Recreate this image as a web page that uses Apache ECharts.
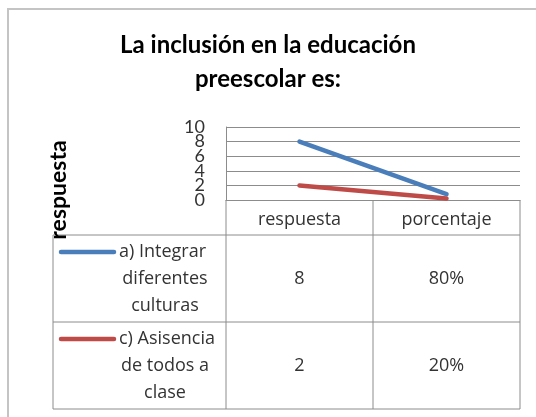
<!DOCTYPE html>
<html><head><meta charset="utf-8">
<script src="https://cdn.jsdelivr.net/npm/echarts@6/dist/echarts.min.js"></script>
<style>html,body{margin:0;padding:0;background:#fff}#c{width:536px;height:417px}</style>
</head><body><div id="c"></div>
<script>
// ---- data ----
const categories = ['respuesta', 'porcentaje'];
const seriesNames = ['a) Integrar diferentes culturas', 'c) Asisencia de todos a clase'];
const seriesLabelLines = [['a) Integrar', 'diferentes', 'culturas'], ['c) Asisencia', 'de todos a', 'clase']];
const valuesA = [8, 0.8];
const valuesC = [2, 0.2];
const yTicks = [0, 2, 4, 6, 8, 10];
const titleText = 'La inclusión en la educación\npreescolar es:';
const yAxisTitle = 'respuesta';
const colors = ['#4a7ebb', '#be4b48'];

const allValues = [valuesA, valuesC];
function fmt(catIdx, v) { return catIdx === 1 ? Math.round(v * 100) + '%' : String(v); }

const chart = echarts.init(document.getElementById('c'), null, { renderer: 'canvas' });
const gridLine = '#8c8c8c';
const txt = '#333';
const yMin = yTicks[0], yMax = yTicks[yTicks.length - 1], yStep = yTicks[1] - yTicks[0];
// labels overlap in the original; split them over two stacked axes so none is hidden
function yAxisDef(parity, main) {
  return {
    type: 'value', min: yMin, max: yMax, interval: yStep, position: 'left',
    axisLine: { show: main, lineStyle: { color: gridLine, width: 1 } },
    axisTick: { show: false },
    axisLabel: { margin: 21, fontFamily: 'Lato', fontSize: 18, color: txt,
      showMinLabel: true, showMaxLabel: true,
      formatter: v => (Math.round((v - yMin) / yStep) % 2 === parity ? String(v) : '') },
    splitLine: { show: main, lineStyle: { color: gridLine, width: 1 } }
  };
}
chart.setOption({
  animation: false,
  backgroundColor: '#fff',
  title: {
    text: titleText, left: 'center', top: 23,
    textStyle: { fontFamily: 'Lato', fontWeight: 'bold', fontSize: 24, lineHeight: 34, color: '#000' }
  },
  grid: { left: 226, right: 16, top: 127, bottom: 217, containLabel: false },
  xAxis: {
    type: 'category', data: categories, boundaryGap: true,
    axisLine: { show: true, lineStyle: { color: gridLine, width: 1 } },
    axisTick: { show: false },
    axisLabel: { margin: 11, fontFamily: 'Open Sans', fontSize: 18, color: txt }
  },
  yAxis: [yAxisDef(0, true), yAxisDef(1, false)],
  series: allValues.map((vals, i) => ({
    type: 'line', name: seriesNames[i], data: vals, symbol: 'none', yAxisIndex: 0,
    lineStyle: { color: colors[i], width: 4.5, cap: 'round' }, itemStyle: { color: colors[i] }
  }))
});

function buildTable() {
  const c0 = chart.convertToPixel({ xAxisIndex: 0 }, 0);
  const c1 = chart.convertToPixel({ xAxisIndex: 0 }, 1);
  const bw = c1 - c0;
  const bounds = [c0 - bw / 2];
  categories.forEach((_, i) => bounds.push(c0 + bw * i + bw / 2));
  const yTop = chart.convertToPixel({ yAxisIndex: 0 }, 0);
  const tableLeft = 53;
  const headerH = 35, rowH = 87;
  const rowTops = [yTop + headerH, yTop + headerH + rowH];
  const bottom = yTop + headerH + rowH * 2;
  const right = bounds[bounds.length - 1];
  const ls = { stroke: '#8c8c8c', lineWidth: 1 };
  const g = [];
  g.push({ type: 'rect', shape: { x: 8, y: 9, width: 600, height: 500 }, style: { fill: null, stroke: '#c4c4c4', lineWidth: 2 }, silent: true });
  rowTops.concat([bottom]).forEach(y => g.push({ type: 'line', shape: { x1: tableLeft, y1: y, x2: right, y2: y }, style: ls }));
  g.push({ type: 'line', shape: { x1: tableLeft, y1: rowTops[0], x2: tableLeft, y2: bottom }, style: ls });
  bounds.forEach(x => g.push({ type: 'line', shape: { x1: x, y1: yTop, x2: x, y2: bottom }, style: ls }));
  const font = '18px "Open Sans"';
  allValues.forEach((vals, r) => {
    const top = rowTops[r];
    g.push({ type: 'line', shape: { x1: 61, y1: top + 17, x2: 114, y2: top + 17 }, style: { stroke: colors[r], lineWidth: 4.5, lineCap: 'round' } });
    seriesLabelLines[r].forEach((t, k) => {
      if (k === 0) {
        g.push({ type: 'text', style: { text: t, x: 119, y: top + 17, textAlign: 'left', textVerticalAlign: 'middle', font, fill: txt } });
      } else {
        g.push({ type: 'text', style: { text: t, x: 165, y: top + 17 + 27 * k, textAlign: 'center', textVerticalAlign: 'middle', font, fill: txt } });
      }
    });
    vals.forEach((v, ci) => {
      g.push({ type: 'text', style: { text: fmt(ci, v), x: chart.convertToPixel({ xAxisIndex: 0 }, ci), y: top + rowH / 2, textAlign: 'center', textVerticalAlign: 'middle', font, fill: txt } });
    });
  });
  g.push({ type: 'text', rotation: Math.PI / 2, x: 59, y: 190, style: { text: yAxisTitle, textAlign: 'center', textVerticalAlign: 'middle', font: 'bold 23px Lato', fill: '#000' } });
  chart.setOption({ graphic: g });
}
buildTable();
</script>
</body></html>
